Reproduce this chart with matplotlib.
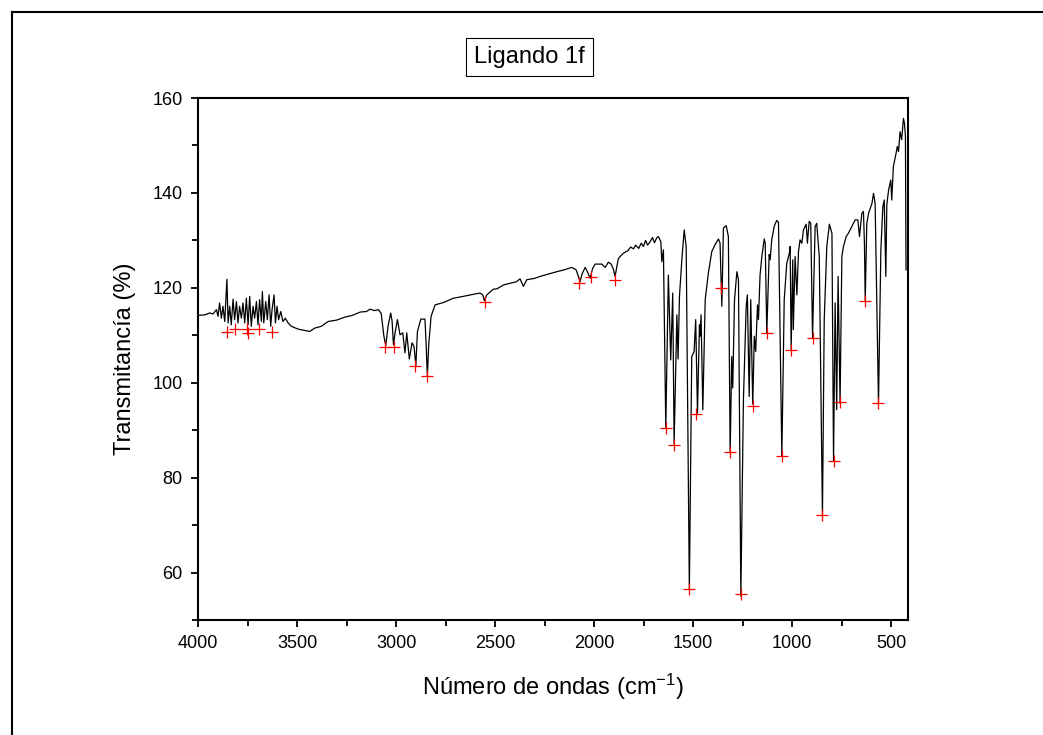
import matplotlib
matplotlib.use("Agg")
import matplotlib.pyplot as plt
from matplotlib.lines import Line2D
from matplotlib.ticker import MultipleLocator

plt.rcParams["font.family"] = ["Liberation Sans", "DejaVu Sans"]
plt.rcParams["mathtext.fontset"] = "custom"
plt.rcParams["mathtext.rm"] = "Liberation Sans"
plt.rcParams["mathtext.default"] = "regular"

# spectrum (wavenumber cm-1, transmittance %)
wavenumber = [
    4000, 3966, 3941, 3924, 3907, 3899, 3891, 3882, 3874, 3865, 3854, 3848,
    3840, 3832, 3823, 3815, 3806, 3798, 3790, 3781, 3773, 3764, 3756, 3747,
    3739, 3731, 3722, 3714, 3705, 3697, 3689, 3680, 3675, 3668, 3658, 3650,
    3641, 3633, 3626, 3616, 3609, 3601, 3593, 3582, 3571, 3559, 3545, 3529,
    3495, 3461, 3436, 3411, 3377, 3343, 3300, 3260, 3220, 3180, 3150, 3131,
    3110, 3089, 3075, 3062, 3052, 3040, 3027, 3020, 3013, 3005, 2993, 2980,
    2966, 2955, 2946, 2933, 2919, 2909, 2900, 2892, 2875, 2854, 2848, 2842,
    2835, 2823, 2803, 2761, 2711, 2660, 2626, 2576, 2562, 2554, 2542, 2509,
    2490, 2458, 2420, 2391, 2374, 2357, 2340, 2300, 2273, 2230, 2188, 2150,
    2113, 2091, 2080, 2071, 2060, 2045, 2034, 2020, 2008, 1995, 1961, 1944,
    1928, 1914, 1903, 1894, 1885, 1877, 1852, 1830, 1815, 1801, 1790, 1775,
    1762, 1751, 1740, 1730, 1717, 1705, 1695, 1683, 1675, 1663, 1658, 1650,
    1638, 1625, 1613, 1603, 1596, 1582, 1576, 1569, 1557, 1545, 1535, 1519,
    1507, 1495, 1487, 1478, 1468, 1465, 1460, 1451, 1439, 1423, 1406, 1389,
    1372, 1364, 1355, 1347, 1333, 1322, 1313, 1305, 1300, 1291, 1279, 1271,
    1259, 1246, 1232, 1226, 1217, 1209, 1199, 1191, 1184, 1175, 1170, 1162,
    1153, 1141, 1136, 1128, 1116, 1111, 1103, 1091, 1078, 1069, 1052, 1040,
    1027, 1014, 1010, 1005, 997, 994, 985, 976, 968, 960, 951, 943,
    929, 923, 914, 906, 897, 884, 876, 863, 847, 838, 825, 812,
    799, 791, 783, 775, 768, 758, 749, 741, 727, 716, 699, 682,
    668, 660, 648, 640, 635, 631, 623, 614, 597, 589, 581, 564,
    552, 542, 535, 527, 522, 513, 502, 497, 489, 475, 469, 463,
    455, 447, 438, 433, 428, 425,
]
transmittance = [
    114.2, 114.3, 114.7, 114.5, 115.4, 114.0, 116.8, 113.6, 116.1, 112.9, 121.8, 112.6,
    116.1, 112.2, 117.6, 113.3, 117.1, 112.6, 116.1, 113.6, 116.8, 112.6, 117.8, 112.2,
    118.2, 111.9, 116.1, 113.6, 117.1, 112.2, 117.5, 112.9, 119.2, 112.6, 117.1, 113.3,
    118.5, 111.9, 115.4, 118.5, 112.6, 116.1, 113.3, 115.0, 112.9, 113.6, 112.6, 111.9,
    111.3, 111.0, 110.8, 111.5, 111.9, 112.9, 113.2, 113.8, 114.2, 114.9, 115.0, 115.5,
    115.2, 115.4, 114.6, 110.0, 107.8, 112.0, 114.7, 113.0, 108.0, 110.5, 113.3, 110.1,
    110.5, 106.3, 110.5, 105.0, 108.4, 107.6, 103.6, 110.8, 113.4, 113.4, 108.0, 101.3,
    108.0, 114.0, 116.4, 116.9, 117.8, 118.2, 118.5, 118.9, 118.5, 117.3, 118.5, 119.7,
    119.8, 120.6, 121.0, 121.3, 121.9, 120.3, 121.7, 122.0, 122.4, 122.9, 123.4, 123.8,
    124.3, 123.8, 122.5, 121.3, 123.0, 124.3, 123.4, 122.0, 124.0, 125.0, 125.0, 124.3,
    125.4, 125.0, 124.0, 122.4, 124.5, 126.2, 127.3, 127.8, 128.6, 128.2, 129.0, 128.3,
    129.4, 128.7, 130.0, 129.0, 129.7, 130.6, 129.5, 130.6, 130.8, 129.7, 125.5, 128.0,
    90.5, 122.7, 104.8, 118.9, 87.0, 114.3, 105.0, 118.2, 125.9, 132.2, 128.7, 56.3,
    105.5, 106.6, 113.3, 93.6, 112.2, 109.8, 114.3, 94.3, 117.5, 123.1, 127.6, 129.1,
    130.3, 129.4, 116.1, 132.6, 133.1, 130.8, 85.2, 105.5, 98.9, 117.5, 123.4, 121.7,
    55.0, 96.4, 116.1, 118.5, 97.1, 117.5, 95.5, 109.8, 106.6, 116.4, 113.3, 122.7,
    126.6, 130.3, 129.4, 110.5, 127.0, 125.9, 130.1, 132.9, 134.2, 133.8, 84.5, 117.5,
    125.2, 127.3, 128.7, 107.0, 125.9, 111.2, 126.6, 118.5, 127.6, 130.1, 129.4, 132.2,
    133.4, 129.4, 134.0, 133.6, 109.5, 132.9, 133.6, 126.6, 72.0, 113.3, 128.7, 133.4,
    131.5, 83.5, 116.8, 94.3, 122.4, 95.7, 126.6, 128.7, 130.8, 131.5, 132.9, 134.3,
    134.3, 130.8, 135.7, 136.1, 129.4, 117.3, 133.6, 135.7, 137.8, 139.9, 137.8, 95.7,
    128.0, 137.1, 138.5, 122.4, 137.5, 140.6, 142.7, 138.5, 145.5, 148.4, 149.8, 148.7,
    152.9, 151.2, 155.7, 154.7, 152.0, 123.8,
]

# picked peaks (red crosses)
peak_wn = [3852, 3813, 3754, 3746, 3690, 3628, 3056, 3010, 2904, 2842, 2550,
           2074, 2015, 1894, 1638, 1596, 1519, 1483, 1360, 1313, 1259, 1199,
           1128, 1052, 1005, 897, 847, 791, 758, 631, 564]
peak_t = [110.7, 111.4, 111.4, 110.5, 111.4, 110.7, 107.6, 107.6, 103.6, 101.5, 117.1,
          121.1, 122.2, 121.7, 90.5, 86.8, 56.6, 93.4, 119.9, 85.4, 55.4, 95.2,
          110.5, 84.5, 107.0, 109.5, 72.2, 83.6, 95.9, 117.3, 95.7]

W, H = 1043, 735
fig = plt.figure(figsize=(W / 100, H / 100), dpi=100)
ax = fig.add_axes([198 / W, 1 - 620 / H, (908 - 198) / W, (620 - 98) / H])

ax.plot(wavenumber, transmittance, color="black", lw=0.9)
ax.plot(peak_wn, peak_t, ls="none", marker="+", color="red", ms=9, mew=0.9)

ax.set_xlim(4000, 415)
ax.set_ylim(50, 160)
ax.xaxis.set_major_locator(MultipleLocator(500))
ax.xaxis.set_minor_locator(MultipleLocator(250))
ax.yaxis.set_major_locator(MultipleLocator(20))
ax.yaxis.set_minor_locator(MultipleLocator(10))
ax.tick_params(which="both", direction="out", top=False, right=False,
               width=1.3, labelsize=13)
ax.tick_params(which="major", length=5, pad=6)
ax.tick_params(which="minor", length=4)
for sp in ax.spines.values():
    sp.set_linewidth(1.5)

ax.set_xlabel("Número de ondas (cm$^{-1}$)", fontsize=17, labelpad=14)
ax.set_ylabel("Transmitancía (%)", fontsize=17, labelpad=12)

fig.text(474 / W, 1 - 57 / H, "Ligando 1f", fontsize=17, ha="left", va="center",
         bbox=dict(boxstyle="square,pad=0.35", fc="white", ec="black", lw=0.8))

# outer frame (only left and top edges are visible in the image)
fig.add_artist(Line2D([12 / W, 12 / W], [0, 1 - 12 / H], color="black", lw=1.5))
fig.add_artist(Line2D([12 / W, 1], [1 - 12 / H, 1 - 12 / H], color="black", lw=1.5))

fig.savefig("out.png", dpi=100)
